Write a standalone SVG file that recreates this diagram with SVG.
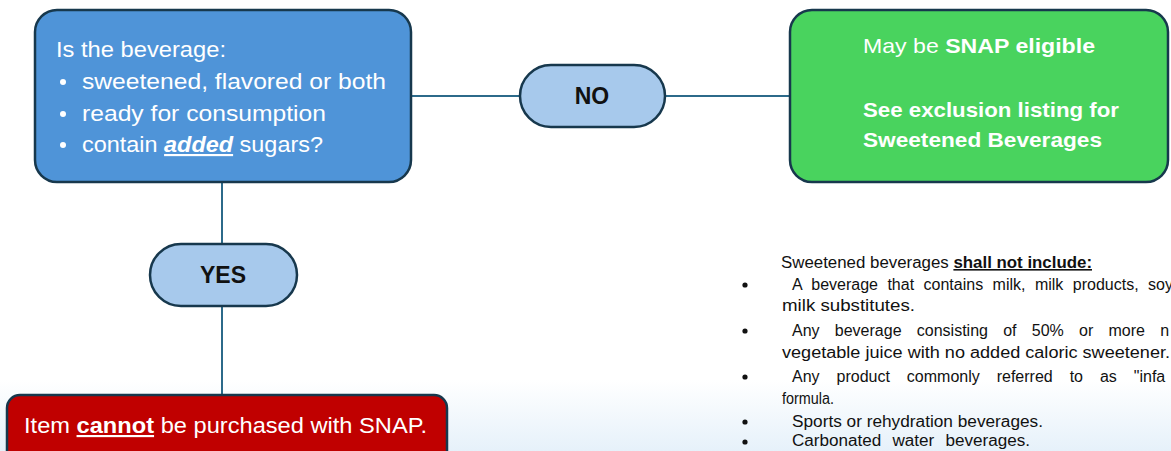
<svg xmlns="http://www.w3.org/2000/svg" width="1171" height="451" viewBox="0 0 1171 451">
<defs>
<linearGradient id="bg" x1="0" y1="0" x2="0" y2="1">
<stop offset="0" stop-color="#ffffff"/>
<stop offset="1" stop-color="#e6f1fa"/>
</linearGradient>
<style>
.box{stroke:#17384d;stroke-width:2.5}
.pill{fill:#a7c9ec;stroke:#17384d;stroke-width:2.5}
.wt{font-family:"Liberation Sans",Arial,sans-serif;fill:#ffffff}
.pt{font-family:"Liberation Sans",Arial,sans-serif;font-weight:bold;font-size:23px;fill:#111111;text-anchor:middle}
.sm{font-family:"Liberation Sans",Arial,sans-serif;font-size:16px;fill:#111111}
.con{stroke:#2c6a8a;stroke-width:2;fill:none}
</style>
</defs>
<rect x="0" y="0" width="1171" height="451" fill="#ffffff"/>
<rect x="0" y="380" width="1171" height="71" fill="url(#bg)"/>
<g id="connectors">
<line class="con" x1="411" y1="96" x2="520" y2="96"/>
<line class="con" x1="665" y1="96" x2="790" y2="96"/>
<line class="con" x1="222" y1="182" x2="222" y2="244"/>
<line class="con" x1="222" y1="306" x2="222" y2="395"/>
</g>
<g id="question">
<rect class="box" x="35" y="10" width="376" height="172" rx="22" fill="#4f94d8"/>
<text class="wt" font-size="21.5" x="56" y="57" textLength="170" lengthAdjust="spacingAndGlyphs">Is the beverage:</text>
<circle cx="63" cy="82" r="3" fill="#fff"/>
<circle cx="63" cy="114" r="3" fill="#fff"/>
<circle cx="63" cy="145" r="3" fill="#fff"/>
<text class="wt" font-size="21.5" x="82" y="89" textLength="304" lengthAdjust="spacingAndGlyphs">sweetened, flavored or both</text>
<text class="wt" font-size="21.5" x="82" y="121" textLength="244" lengthAdjust="spacingAndGlyphs">ready for consumption</text>
<text class="wt" font-size="21.5" x="82" y="152" textLength="241" lengthAdjust="spacingAndGlyphs">contain <tspan font-weight="bold" font-style="italic" text-decoration="underline">added</tspan> sugars?</text>
</g>
<g id="no">
<rect class="pill" x="520" y="65" width="145" height="62" rx="31"/>
<text class="pt" x="592" y="104">NO</text>
</g>
<g id="eligible">
<rect class="box" x="790" y="10" width="378" height="172" rx="22" fill="#49d35e"/>
<text class="wt" font-size="21" x="863" y="53" textLength="232" lengthAdjust="spacingAndGlyphs">May be <tspan font-weight="bold">SNAP eligible</tspan></text>
<text class="wt" font-size="21" font-weight="bold" x="863" y="117" textLength="256" lengthAdjust="spacingAndGlyphs">See exclusion listing for</text>
<text class="wt" font-size="21" font-weight="bold" x="863" y="147" textLength="239" lengthAdjust="spacingAndGlyphs">Sweetened Beverages</text>
</g>
<g id="yes">
<rect class="pill" x="150" y="244" width="147" height="62" rx="31"/>
<text class="pt" x="223" y="283">YES</text>
</g>
<g id="cannot">
<rect class="box" x="7" y="395" width="440" height="80" rx="13" fill="#c00000"/>
<text class="wt" font-size="21.5" x="24" y="433" textLength="403" lengthAdjust="spacingAndGlyphs">Item <tspan font-weight="bold" text-decoration="underline">cannot</tspan> be purchased with SNAP.</text>
</g>
<g id="exclusions">
<text class="sm" x="781" y="268" textLength="311" lengthAdjust="spacingAndGlyphs">Sweetened beverages  <tspan font-weight="bold" text-decoration="underline">shall not include:</tspan></text>
<g fill="#111111">
<circle cx="745" cy="285" r="2.6"/>
<circle cx="745" cy="331" r="2.6"/>
<circle cx="745" cy="377" r="2.6"/>
<circle cx="745" cy="422" r="2.6"/>
<circle cx="745" cy="442" r="2.6"/>
</g>
<text class="sm" x="792" y="290" word-spacing="5">A beverage that contains milk, milk products, soy</text>
<text class="sm" x="782" y="311" textLength="133" lengthAdjust="spacingAndGlyphs">milk substitutes.</text>
<text class="sm" x="792" y="336" word-spacing="10.8">Any beverage consisting of 50% or more n</text>
<text class="sm" x="782" y="358" textLength="388" lengthAdjust="spacingAndGlyphs">vegetable juice with no added  caloric sweetener.</text>
<text class="sm" x="792" y="382" word-spacing="12.5">Any product commonly referred to as "infa</text>
<text class="sm" x="782" y="404" textLength="52" lengthAdjust="spacingAndGlyphs">formula.</text>
<text class="sm" x="792" y="427" textLength="251" lengthAdjust="spacingAndGlyphs">Sports or rehydration beverages.</text>
<text class="sm" x="792" y="446" word-spacing="6" textLength="238" lengthAdjust="spacingAndGlyphs">Carbonated water beverages.</text>
</g>
</svg>
